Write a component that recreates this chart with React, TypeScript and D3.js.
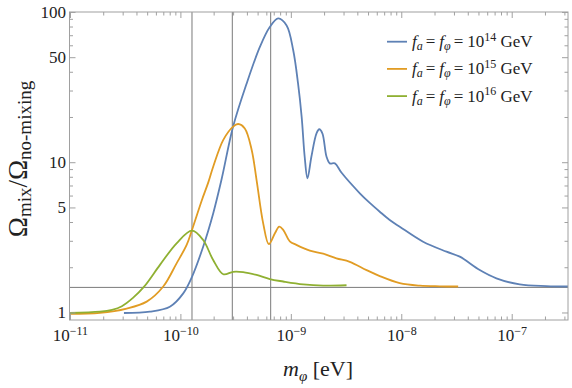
import React from 'react';
import * as d3 from 'd3';

// f_a = f_phi = 1e14 GeV
const massF14 = [3.05e-11, 5.24e-11, 7.94e-11, 1.05e-10, 1.26e-10, 1.59e-10, 1.96e-10, 2.33e-10, 2.97e-10, 3.94e-10, 5.19e-10, 6.38e-10, 7.6e-10, 9.06e-10, 1.04e-9, 1.15e-9, 1.24e-9, 1.32e-9, 1.4e-9, 1.52e-9, 1.69e-9, 1.79e-9, 1.91e-9, 2.08e-9, 2.23e-9, 2.48e-9, 2.84e-9, 4.17e-9, 5.13e-9, 6.32e-9, 7.78e-9, 9.59e-9, 1.56e-8, 2.54e-8, 3.35e-8, 5.08e-8, 7.19e-8, 1.17e-7, 2.04e-7, 3.24e-7];
const ratioF14 = [1.0, 1.02, 1.1, 1.35, 1.74, 2.76, 4.6, 7.7, 17.4, 33.7, 59, 80, 91.4, 82, 56, 33.7, 20.2, 11, 7.87, 11, 15.7, 16.7, 15.7, 11, 9.9, 9.9, 8.6, 6.26, 5.4, 4.72, 4.16, 3.75, 2.98, 2.56, 2.37, 1.93, 1.7, 1.55, 1.51, 1.5];

// f_a = f_phi = 1e15 GeV
const massF15 = [9.8e-12, 1.85e-11, 3.23e-11, 4.9e-11, 6.92e-11, 9.14e-11, 1.13e-10, 1.26e-10, 1.55e-10, 1.77e-10, 1.96e-10, 2.42e-10, 2.97e-10, 3.3e-10, 3.79e-10, 4.37e-10, 4.84e-10, 5.56e-10, 6.25e-10, 7.1e-10, 7.77e-10, 8.44e-10, 9.68e-10, 1.11e-9, 1.47e-9, 1.94e-9, 2.56e-9, 3.38e-9, 4.8e-9, 6.32e-9, 9.59e-9, 1.46e-8, 2.21e-8, 3.24e-8];
const ratioF15 = [0.985, 1.0, 1.07, 1.19, 1.5, 2.14, 2.85, 3.57, 5.65, 7.4, 9.4, 14.2, 17.4, 18.1, 16.9, 12.2, 7.7, 3.95, 2.87, 3.39, 3.75, 3.57, 3.0, 2.84, 2.6, 2.48, 2.31, 2.19, 1.93, 1.76, 1.58, 1.52, 1.505, 1.5];

// f_a = f_phi = 1e16 GeV
const massF16 = [9.8e-12, 1.85e-11, 2.38e-11, 2.92e-11, 3.68e-11, 4.62e-11, 6.46e-11, 9.14e-11, 1.26e-10, 1.59e-10, 1.96e-10, 2.42e-10, 2.97e-10, 3.66e-10, 4.84e-10, 6.38e-10, 8.44e-10, 1.28e-9, 1.94e-9, 3.16e-9];
const ratioF16 = [1.0, 1.02, 1.05, 1.11, 1.26, 1.49, 2.09, 2.91, 3.53, 3.06, 2.25, 1.81, 1.88, 1.87, 1.79, 1.68, 1.62, 1.55, 1.52, 1.53];

const seriesExponents = ['14', '15', '16'];
const seriesColors = ['#5E81B5', '#E19C24', '#8FB032'];

const xMajorExponents = [-11, -10, -9, -8, -7];
const yMajorTicks = [1, 5, 10, 50, 100];
const yMinorTicks = [2, 3, 4, 6, 7, 8, 9, 20, 30, 40, 60, 70, 80, 90];

const refMasses = [1.26e-10, 2.92e-10, 6.5e-10];
const refRatio = 1.48;

const W = 572;
const H = 388;
const L = 69.5, R = 568, T = 12, B = 320;

export default function App() {
  const x = d3.scaleLog().domain([9.8e-12, 3.2e-7]).range([L, R]);
  const y = d3.scaleLog().domain([0.898, 100.7]).range([B, T]);

  const series = [
    massF14.map((m, i) => [m, ratioF14[i]] as [number, number]),
    massF15.map((m, i) => [m, ratioF15[i]] as [number, number]),
    massF16.map((m, i) => [m, ratioF16[i]] as [number, number]),
  ];

  const line = d3
    .line<[number, number]>()
    .x((d) => x(d[0]))
    .y((d) => y(d[1]))
    .curve(d3.curveCatmullRom.alpha(0.5));

  const xMinor: number[] = [];
  const xMajor: number[] = xMajorExponents.map((e) => Math.pow(10, e));
  for (const e of xMajorExponents) {
    for (let k = 2; k <= 9; k++) {
      const v = k * Math.pow(10, e);
      if (v <= 3.2e-7) xMinor.push(v);
    }
  }

  const frameColor = '#a0a0a0';
  const refColor = '#7a7a7a';
  const font = "'Liberation Serif', 'DejaVu Serif', serif";

  return (
    <svg
      width={W}
      height={H}
      style={{ position: 'absolute', left: 0, top: 0, background: '#fff' }}
      fontFamily={font}
    >
      <defs>
        <clipPath id="plotclip">
          <rect x={L} y={T} width={R - L} height={B - T} />
        </clipPath>
      </defs>

      {/* reference lines */}
      {refMasses.map((m, i) => (
        <line key={'rv' + i} x1={x(m)} x2={x(m)} y1={T} y2={B} stroke={refColor} strokeWidth={1} />
      ))}
      <line x1={L} x2={R} y1={y(refRatio)} y2={y(refRatio)} stroke={refColor} strokeWidth={1} />

      {/* curves */}
      <g clipPath="url(#plotclip)">
        {series.map((s, i) => (
          <path key={'s' + i} d={line(s) || ''} fill="none" stroke={seriesColors[i]} strokeWidth={1.8} strokeLinejoin="round" />
        ))}
      </g>

      {/* frame */}
      <rect x={L} y={T} width={R - L} height={B - T} fill="none" stroke={frameColor} strokeWidth={1} />

      {/* x ticks */}
      {xMajor.map((v, i) => (
        <g key={'xM' + i}>
          <line x1={x(v)} x2={x(v)} y1={B} y2={B - 6} stroke={frameColor} />
          <line x1={x(v)} x2={x(v)} y1={T} y2={T + 6} stroke={frameColor} />
          <text x={x(v)} y={341} textAnchor="middle" fontSize={17} fill="#222">
            10
            <tspan dy={-6.5} fontSize={12}>
              {'\u2212' + String(-xMajorExponents[i])}
            </tspan>
          </text>
        </g>
      ))}
      {xMinor.map((v, i) => (
        <g key={'xm' + i}>
          <line x1={x(v)} x2={x(v)} y1={B} y2={B - 3.5} stroke={frameColor} />
          <line x1={x(v)} x2={x(v)} y1={T} y2={T + 3.5} stroke={frameColor} />
        </g>
      ))}

      {/* y ticks */}
      {yMajorTicks.map((v, i) => (
        <g key={'yM' + i}>
          <line x1={L} x2={L + 6} y1={y(v)} y2={y(v)} stroke={frameColor} />
          <line x1={R} x2={R - 6} y1={y(v)} y2={y(v)} stroke={frameColor} />
          <text x={66} y={y(v) + 5.5} textAnchor="end" fontSize={17} fill="#222">
            {String(v)}
          </text>
        </g>
      ))}
      {yMinorTicks.map((v, i) => (
        <g key={'ym' + i}>
          <line x1={L} x2={L + 3.5} y1={y(v)} y2={y(v)} stroke={frameColor} />
          <line x1={R} x2={R - 3.5} y1={y(v)} y2={y(v)} stroke={frameColor} />
        </g>
      ))}

      {/* axis labels */}
      <text x={318} y={376} textAnchor="middle" fontSize={22} fill="#222">
        <tspan fontStyle="italic">m</tspan>
        <tspan dy={5} fontSize={15} fontStyle="italic">φ</tspan>
        <tspan dy={-5}> [eV]</tspan>
      </text>
      <text transform="translate(27,159) rotate(-90)" textAnchor="middle" fontSize={27} fill="#222">
        Ω<tspan dy={4} fontSize={19}>mix</tspan>
        <tspan dy={-4}>/Ω</tspan>
        <tspan dy={4} fontSize={19}>no-mixing</tspan>
      </text>

      {/* legend */}
      {seriesExponents.map((e, i) => {
        const ly = 41.7 + i * 27.2;
        return (
          <g key={'lg' + i}>
            <line x1={387} x2={407} y1={ly} y2={ly} stroke={seriesColors[i]} strokeWidth={1.8} />
            <text x={412} y={ly + 5.5} fontSize={17} fill="#222">
              <tspan fontStyle="italic">f</tspan>
              <tspan dy={3} fontSize={12} fontStyle="italic">a</tspan>
              <tspan dy={-3} dx={3}>=</tspan>
              <tspan dx={4} fontStyle="italic">f</tspan>
              <tspan dy={3} fontSize={12} fontStyle="italic">φ</tspan>
              <tspan dy={-3} dx={3}>=</tspan>
              <tspan dx={4}>10</tspan>
              <tspan dy={-6.5} fontSize={12}>{e}</tspan>
              <tspan dy={6.5}> GeV</tspan>
            </text>
          </g>
        );
      })}
    </svg>
  );
}
